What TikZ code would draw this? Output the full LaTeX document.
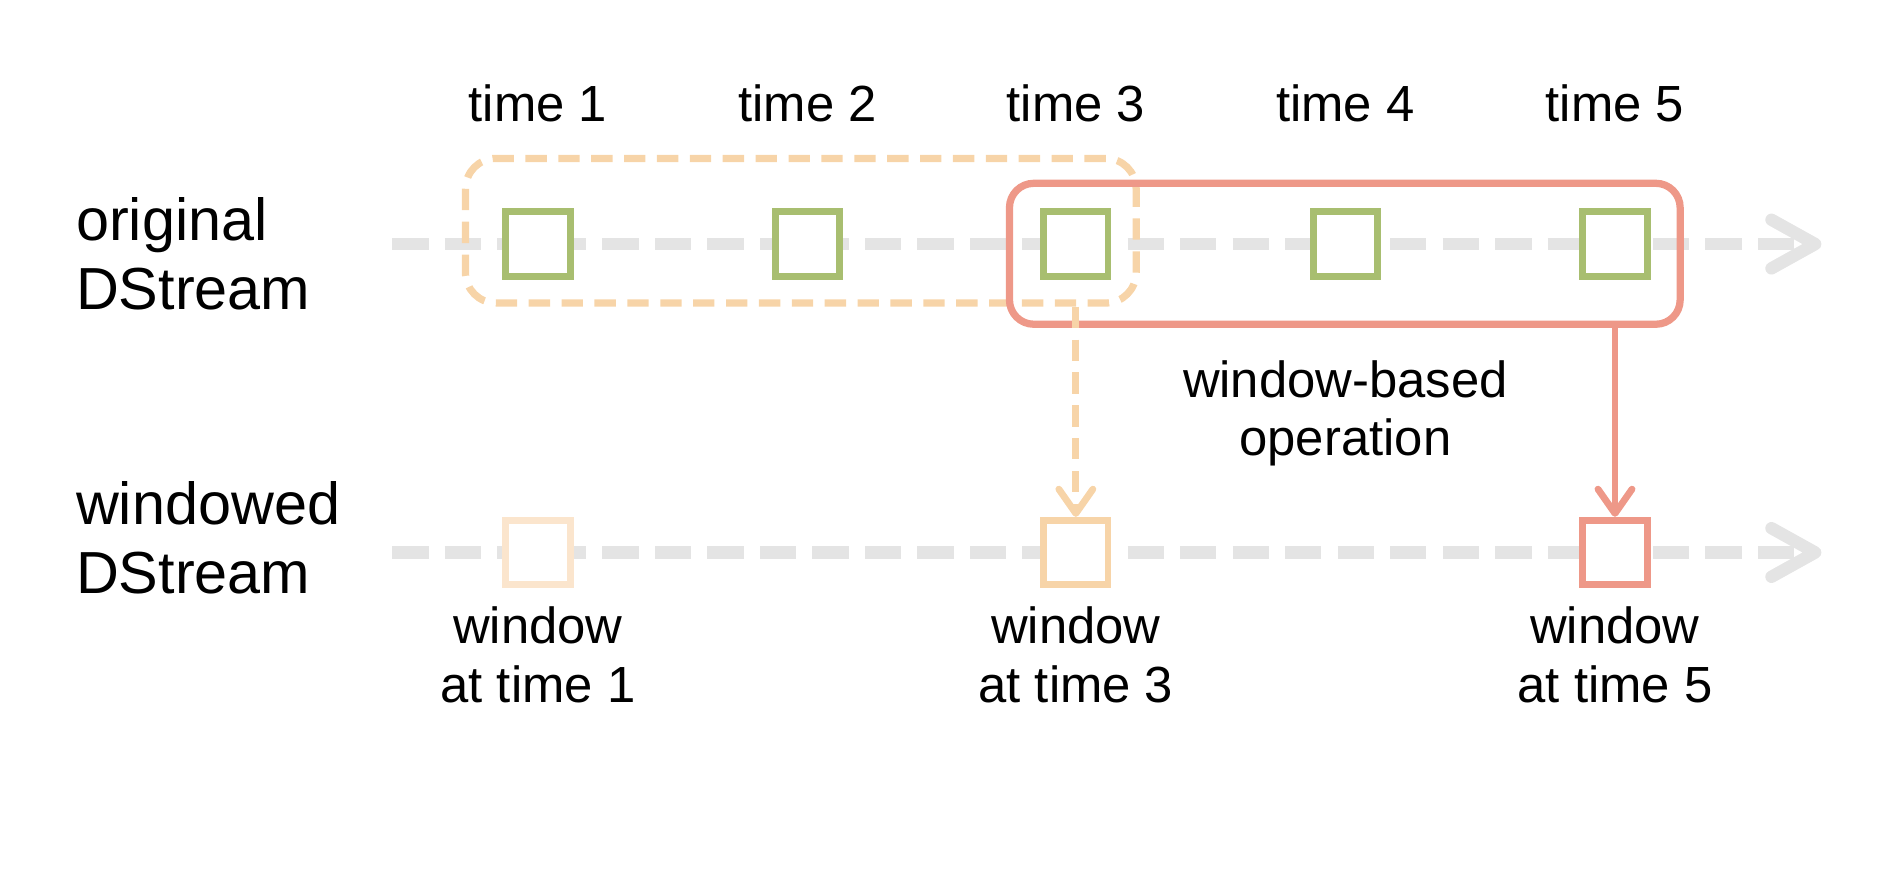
\documentclass[tikz,border=0pt]{standalone}
\usepackage{fontspec}
\setmainfont{Liberation Sans}
\usepackage{xcolor}
\usetikzlibrary{arrows.meta}
\definecolor{rddgreen}{RGB}{168,190,112}
\definecolor{winorange}{RGB}{247,212,168}
\definecolor{winpale}{RGB}{251,229,205}
\definecolor{winred}{RGB}{238,152,136}
\definecolor{streamgray}{RGB}{228,228,228}

\begin{document}
\begin{tikzpicture}[x=0.01cm,y=0.01cm]
\tikzstyle{every node}+=[inner sep=0pt]
\tikzstyle{txt}=[font=\fontsize{11.9}{13.7}\selectfont, align=center]
\tikzstyle{bigtxt}=[font=\fontsize{13.9}{16.2}\selectfont, align=left]
\tikzstyle{stream}=[draw=streamgray, line width=2.9pt, dash pattern=on 8.5pt off 3.8pt, -{Straight Barb[length=0.36cm, width=0.40cm, round]}]
\tikzstyle{rdd}=[draw, fill=white, line width=1.6pt, minimum size=0.53cm]
\tikzstyle{winbox}=[draw, line width=1.7pt, minimum width=5.52cm]
\tikzstyle{winarrow}=[line width=1.6pt, -{Straight Barb[length=0.2cm, width=0.28cm, round]}]
\useasboundingbox (0,0) rectangle (1568,-721.4);
\coordinate (os) at (323,-201);
\coordinate (oe) at (1500,-201);
\coordinate (ws) at (323,-455);
\coordinate (we) at (1500,-455);
\draw [stream] (os) -- (oe);
\draw [stream] (ws) -- (we);
\node [txt, anchor=base] (t1) at (443,-100) {time 1};
\node [txt, anchor=base] (t2) at (665,-100) {time 2};
\node [txt, anchor=base] (t3) at (886,-100) {time 3};
\node [txt, anchor=base] (t4) at (1108,-100) {time 4};
\node [txt, anchor=base] (t5) at (1330,-100) {time 5};
\node [bigtxt, anchor=north west] (orig) at (62,-162) {original\\DStream};
\node [bigtxt, anchor=north west] (wind) at (62,-396) {windowed\\DStream};
\node [winbox, draw=winorange, dash pattern=on 5pt off 2.7pt, rounded corners=0.25cm, minimum height=1.19cm] (obox) at (659.5,-190) {};
\node [winbox, draw=winred, rounded corners=0.2cm, minimum height=1.16cm] (rbox) at (1107.5,-209) {};
\node [rdd, draw=rddgreen] (o1) at (443,-201) {};
\node [rdd, draw=rddgreen] (o2) at (665,-201) {};
\node [rdd, draw=rddgreen] (o3) at (886,-201) {};
\node [rdd, draw=rddgreen] (o4) at (1108,-201) {};
\node [rdd, draw=rddgreen] (o5) at (1330,-201) {};
\node [rdd, draw=winpale] (w1) at (443,-455) {};
\node [rdd, draw=winorange] (w3) at (886,-455) {};
\node [rdd, draw=winred] (w5) at (1330,-455) {};
\draw [winarrow, winorange, dash pattern=on 5pt off 2.7pt] (w3 |- obox.south) -- (w3.north);
\draw [winarrow, winred] (w5 |- rbox.south) -- (w5.north);
\node [txt, anchor=north] (op) at (1108,-296) {window-based\\operation};
\node [txt, anchor=north] (l1) at (443,-499) {window\\at time 1};
\node [txt, anchor=north] (l3) at (886,-499) {window\\at time 3};
\node [txt, anchor=north] (l5) at (1330,-499) {window\\at time 5};
\end{tikzpicture}
\end{document}
